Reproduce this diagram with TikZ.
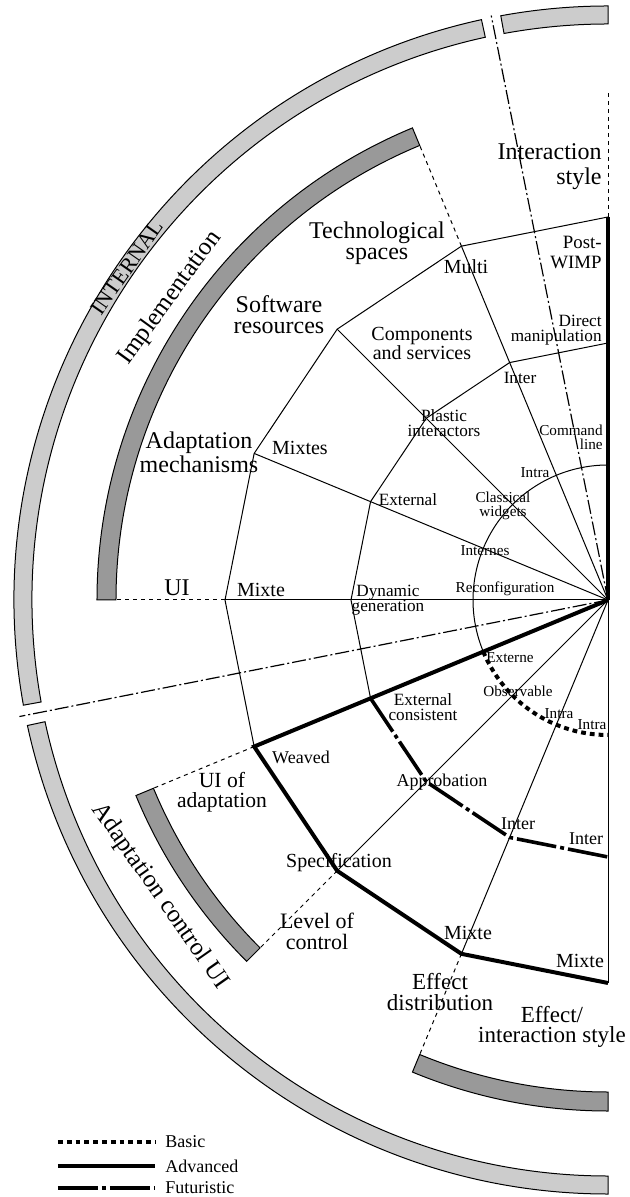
\documentclass[tikz,border=0pt]{standalone}
\usepackage{fontspec}
\setmainfont{Liberation Serif}
\usetikzlibrary{positioning}

\begin{document}
\begin{tikzpicture}[
  x=0.5pt, y=0.5pt,
  grid/.style={line width=0.5pt},
  ext/.style={line width=0.5pt, dash pattern=on 2pt off 2pt},
  sep/.style={line width=0.6pt, dash pattern=on 7pt off 1.5pt on 1pt off 1.5pt},
  basicline/.style={line width=2pt, dash pattern=on 2.4pt off 2pt},
  advline/.style={line width=2pt},
  futline/.style={line width=1.8pt, dash pattern=on 20pt off 2pt on 2pt off 2pt},
  outerband/.style={draw=black, line width=0.5pt, fill=black!20},
  innerband/.style={draw=black, line width=0.5pt, fill=black!40},
  dimension/.style={inner sep=0pt, align=center, font=\fontsize{12}{10.5}\selectfont},
  valbig/.style={inner sep=0pt, align=center, font=\fontsize{10}{9.5}\selectfont},
  valmid/.style={inner sep=0pt, align=center, font=\fontsize{8.6}{7.6}\selectfont},
  valsmall/.style={inner sep=0pt, align=center, font=\fontsize{7.6}{7}\selectfont},
  legend/.style={inner sep=0pt, anchor=west, font=\fontsize{9}{9}\selectfont}
]
\useasboundingbox (-608,-597) rectangle (21,600);
\clip (-608,-597) rectangle (21,600);

% Axes: inner (1), middle (2), outer (3) levels and band end (4)
\coordinate (O) at (0,0);
\coordinate (IS1) at (90:135);    \coordinate (IS2) at (90:257);    \coordinate (IS3) at (90:383);    \coordinate (IS4) at (90:507);
\coordinate (TS1) at (112.5:135); \coordinate (TS2) at (112.5:257); \coordinate (TS3) at (112.5:383); \coordinate (TS4) at (112.5:492);
\coordinate (SR1) at (135:135);   \coordinate (SR2) at (135:257);   \coordinate (SR3) at (135:383);
\coordinate (AM1) at (157.5:135); \coordinate (AM2) at (157.5:257); \coordinate (AM3) at (157.5:383);
\coordinate (UI1) at (180:135);   \coordinate (UI2) at (180:257);   \coordinate (UI3) at (180:383);   \coordinate (UI4) at (180:492);
\coordinate (UA1) at (202.5:135); \coordinate (UA2) at (202.5:257); \coordinate (UA3) at (202.5:383); \coordinate (UA4) at (202.5:492);
\coordinate (LC1) at (225:135);   \coordinate (LC2) at (225:257);   \coordinate (LC3) at (225:383);   \coordinate (LC4) at (225:492);
\coordinate (ED1) at (247.5:135); \coordinate (ED2) at (247.5:257); \coordinate (ED3) at (247.5:383); \coordinate (ED4) at (247.5:492);
\coordinate (EI1) at (270:135);   \coordinate (EI2) at (270:257);   \coordinate (EI3) at (270:383);
\coordinate (S1) at (101.3:596);  \coordinate (S2) at (191.2:600);

% Outer bands
\filldraw[outerband] (90:576) arc[start angle=90, end angle=100.4, radius=576] -- (100.4:594) arc[start angle=100.4, end angle=90, radius=594] -- cycle;
\filldraw[outerband] (102.3:576) arc[start angle=102.3, end angle=190.2, radius=576] -- (190.2:594) arc[start angle=190.2, end angle=102.3, radius=594] -- cycle;
\filldraw[outerband] (192.2:576) arc[start angle=192.2, end angle=270, radius=576] -- (270:594) arc[start angle=270, end angle=192.2, radius=594] -- cycle;

% Inner bands
\filldraw[innerband] (112.5:492) arc[start angle=112.5, end angle=180, radius=492] -- (180:511) arc[start angle=180, end angle=112.5, radius=511] -- cycle;
\filldraw[innerband] (202.5:492) arc[start angle=202.5, end angle=225, radius=492] -- (225:511) arc[start angle=225, end angle=202.5, radius=511] -- cycle;
\filldraw[innerband] (247.5:492) arc[start angle=247.5, end angle=270, radius=492] -- (270:511) arc[start angle=270, end angle=247.5, radius=511] -- cycle;

% Separators
\draw[sep] (O) -- (S1);
\draw[sep] (O) -- (S2);

% Radial axes
\draw[grid] (O) -- (TS3);
\draw[grid] (O) -- (SR3);
\draw[grid] (O) -- (AM3);
\draw[grid] (O) -- (UI3);
\draw[grid] (O) -- (LC3);
\draw[grid] (O) -- (ED3);
\draw[grid] (O) -- (EI3);
\draw[ext] (IS3) -- (IS4);
\draw[ext] (TS3) -- (TS4);
\draw[ext] (UI3) -- (UI4);
\draw[ext] (UA3) -- (UA4);
\draw[ext] (LC3) -- (LC4);
\draw[ext] (ED3) -- (ED4);

% Levels
\draw[grid] (IS3) -- (TS3) -- (SR3) -- (AM3) -- (UI3) -- (UA3);
\draw[grid] (IS2) -- (TS2) -- (SR2) -- (AM2) -- (UI2) -- (UA2);
\draw[grid] (UA1) arc[start angle=202.5, end angle=90, radius=135];

% Profiles
\draw[basicline] (UA1) arc[start angle=202.5, end angle=270, radius=135];
\draw[futline] (UA2) -- (LC2) -- (ED2) -- (EI2);
\draw[advline] (O) -- (UA3) -- (LC3) -- (ED3) -- (EI3);
\draw[advline] (O) -- (IS3);

% Dimensions
\node[dimension, anchor=east, font=\fontsize{12}{12.5}\selectfont, align=right] (is) at (-6,433) {Interaction\\style};
\node[dimension] (ts) at (-231,357) {Technological\\spaces};
\node[dimension] (sr) at (-329,285) {Software\\resources};
\node[dimension] (am) at (-409,148) {Adaptation\\mechanisms};
\node[dimension] (ui) at (-431,12) {UI};
\node[dimension, font=\fontsize{10.8}{10}\selectfont] (ua) at (-386,-192) {UI of\\adaptation};
\node[dimension, font=\fontsize{11}{10.5}\selectfont] (lc) at (-291,-331) {Level of\\control};
\node[dimension, font=\fontsize{11.5}{10.5}\selectfont] (ed) at (-168,-392) {Effect\\distribution};
\node[dimension, font=\fontsize{11.5}{10}\selectfont] (ei) at (-56,-427) {Effect/\\interaction style};
\node[valbig] (cs) at (-186,257) {Components\\and services};

% Groups
\node[dimension, rotate=55, font=\fontsize{11}{11}\selectfont] (internal) at (-481,333) {INTERNAL};
\node[dimension, rotate=54, font=\fontsize{12.5}{12.5}\selectfont] (impl) at (-438,302) {Implementation};
\node[dimension, rotate=-55, font=\fontsize{12.5}{12.5}\selectfont] (acui) at (-448,-296) {Adaptation control UI};

% Values, upper half
\node[valbig, anchor=east, align=right, font=\fontsize{9.4}{10}\selectfont] (pw) at (-6,348) {Post-\\WIMP};
\node[valmid, anchor=east, align=right] (dm) at (-6,270) {Direct\\manipulation};
\node[valsmall, anchor=east, align=right] (cl) at (-5,163) {Command\\line};
\node[valbig] (multi) at (-142,333) {Multi};
\node[valmid] (inter1) at (-88,222) {Inter};
\node[valsmall] (intra1) at (-73,127) {Intra};
\node[valmid] (pi) at (-164,177) {Plastic\\interactors};
\node[valsmall] (cw) at (-105,94) {Classical\\widgets};
\node[valbig] (mixtes) at (-308,152) {Mixtes};
\node[valmid] (extl) at (-200,100) {External};
\node[valsmall] (internes) at (-123,49) {Internes};
\node[valbig] (mixte1) at (-347,10) {Mixte};
\node[valmid] (dg) at (-220,0) {Dynamic\\generation};
\node[valsmall] (reconf) at (-103,11) {Reconfiguration};

% Values, lower half
\node[valsmall] (externe) at (-98,-58) {Externe};
\node[valsmall] (obs) at (-90,-91) {Observable};
\node[valsmall] (intra2) at (-49,-114) {Intra};
\node[valsmall] (intra3) at (-16,-125) {Intra};
\node[valmid] (ec) at (-185,-107) {External\\consistent};
\node[valmid, font=\fontsize{9}{9}\selectfont] (weaved) at (-307,-157) {Weaved};
\node[valmid, font=\fontsize{9}{9}\selectfont] (appro) at (-166,-182) {Approbation};
\node[valmid, font=\fontsize{9}{9}\selectfont] (inter2) at (-90,-224) {Inter};
\node[valmid, font=\fontsize{9}{9}\selectfont] (inter3) at (-22,-239) {Inter};
\node[valbig] (spec) at (-269,-263) {Specification};
\node[valbig] (mixte2) at (-140,-333) {Mixte};
\node[valbig] (mixte3) at (-28,-361) {Mixte};

% Legend
\coordinate (L1) at (-550,-542);
\coordinate (L2) at (-550,-566);
\coordinate (L3) at (-550,-588);
\node[legend] (basic) at (-443,-542) {Basic};
\node[legend] (advanced) at (-443,-566) {Advanced};
\node[legend] (futuristic) at (-443,-588) {Futuristic};
\draw[basicline] (L1) -- ([xshift=-5pt]basic.west);
\draw[advline] (L2) -- ([xshift=-5pt]advanced.west);
\draw[futline] (L3) -- ([xshift=-5pt]futuristic.west);

\end{tikzpicture}
\end{document}
